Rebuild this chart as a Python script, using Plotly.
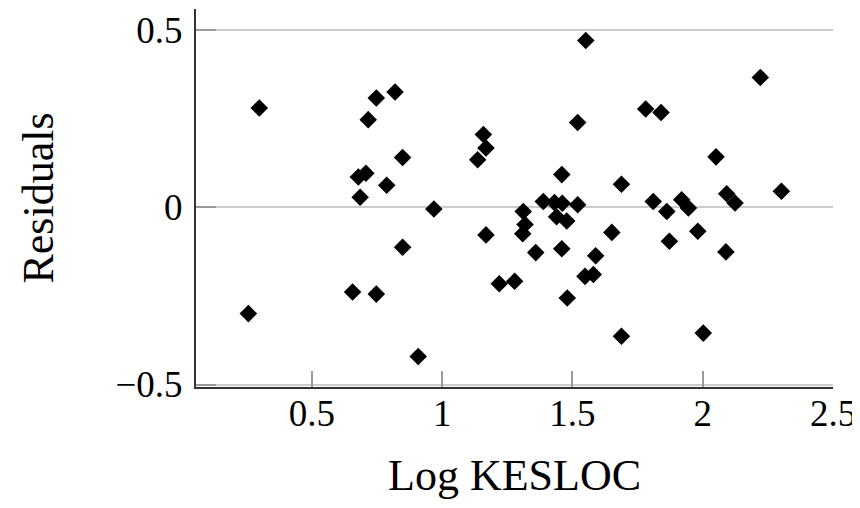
import plotly.graph_objects as go

log_kesloc = [0.256, 0.298, 0.656, 0.678, 0.707, 0.685, 0.716, 0.747, 0.747, 0.787,
              0.819, 0.848, 0.848, 0.908, 0.968, 1.136, 1.158, 1.168, 1.168, 1.219,
              1.278, 1.311, 1.318, 1.309, 1.359, 1.388, 1.431, 1.461, 1.439, 1.478,
              1.459, 1.459, 1.480, 1.520, 1.520, 1.551, 1.548, 1.580, 1.589, 1.651,
              1.688, 1.688, 1.781, 1.840, 1.810, 1.862, 1.872, 1.919, 1.945, 1.981,
              2.002, 2.051, 2.092, 2.124, 2.089, 2.221, 2.302]
residuals = [-0.300, 0.280, -0.239, 0.085, 0.096, 0.028, 0.247, 0.308, -0.245, 0.062,
             0.325, 0.140, -0.113, -0.421, -0.005, 0.134, 0.205, 0.167, -0.078, -0.216,
             -0.209, -0.012, -0.049, -0.075, -0.128, 0.016, 0.013, 0.011, -0.027, -0.039,
             0.092, -0.117, -0.256, 0.007, 0.239, 0.470, -0.195, -0.190, -0.137, -0.071,
             0.065, -0.364, 0.277, 0.267, 0.016, -0.012, -0.096, 0.021, -0.002, -0.068,
             -0.355, 0.142, 0.038, 0.012, -0.126, 0.366, 0.045]

x_ticks = [0.5, 1, 1.5, 2, 2.5]
x_tick_text = ["0.5", "1", "1.5", "2", "2.5"]
y_ticks = [-0.5, 0, 0.5]
y_tick_text = ["\u22120.5", "0", "0.5"]

FONT = "Liberation Serif"

fig = go.Figure(go.Scatter(
    x=log_kesloc, y=residuals, mode="markers",
    marker=dict(symbol="diamond", size=13.5, color="black", line=dict(width=0)),
    hoverinfo="x+y",
))

# page body has an 8px margin; keep the figure small enough to avoid scrollbars
fig.update_layout(
    width=852, height=492,
    margin=dict(l=188, r=27, t=1, b=113),
    paper_bgcolor="white", plot_bgcolor="white",
    showlegend=False,
    font=dict(family=FONT, color="black", size=37),
)

fig.update_xaxes(
    range=[0.055, 2.5], tickmode="array", tickvals=x_ticks, ticktext=x_tick_text,
    showgrid=False, zeroline=False, automargin=False,
    showline=True, linecolor="#333333", linewidth=2,
    ticks="inside", ticklen=16, tickwidth=1.5, tickcolor="#999999",
    tickfont=dict(family=FONT, size=37, color="black"),
    ticklabelstandoff=-7,
    title=dict(text="Log KESLOC", font=dict(family=FONT, size=44, color="black"), standoff=31),
)
fig.update_yaxes(
    range=[-0.507, 0.559], tickmode="array", tickvals=y_ticks, ticktext=y_tick_text,
    showgrid=True, gridcolor="#cccccc", gridwidth=1.5, zeroline=False, automargin=False,
    showline=True, linecolor="#333333", linewidth=2,
    ticks="inside", ticklen=20, tickwidth=1.5, tickcolor="#999999",
    tickfont=dict(family=FONT, size=37, color="black"),
    ticklabelstandoff=4,
    title=dict(text="Residuals", font=dict(family=FONT, size=44, color="black"), standoff=48),
)

fig.write_html("out.html")
